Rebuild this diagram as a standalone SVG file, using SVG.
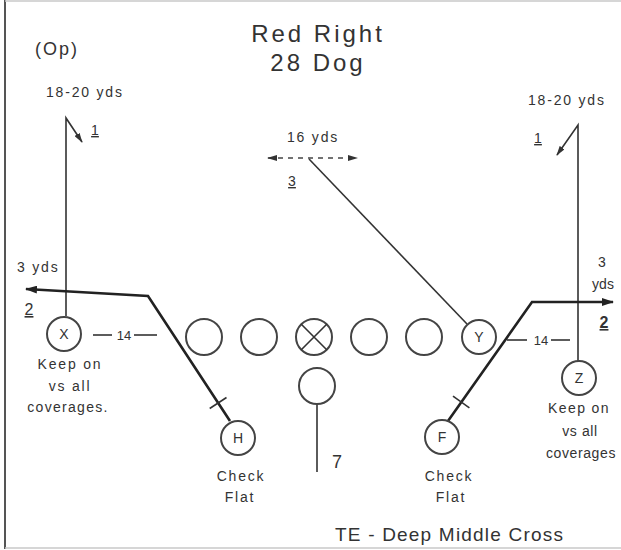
<svg xmlns="http://www.w3.org/2000/svg" width="621" height="550" viewBox="0 0 621 550">
<defs>
<style>
text{font-family:"Liberation Sans",Arial,sans-serif;fill:#333}
.t{font-size:24px;letter-spacing:3px;text-anchor:middle}
.s{font-size:14px;letter-spacing:1.8px}
.m{font-size:14px;letter-spacing:1.8px;text-anchor:middle}
.r{font-size:14px;letter-spacing:0.6px;text-anchor:middle}
.n{font-size:14px;text-anchor:middle;text-decoration:underline}
.c{font-size:14px;text-anchor:middle}
.p{fill:none;stroke:#333;stroke-width:1.6}
.b{fill:none;stroke:#222;stroke-width:2.6}
.o{fill:#fff;stroke:#444;stroke-width:2}
.frame{stroke:#555;stroke-width:2}
.frame2{stroke:#c8c8c8;stroke-width:1.5}
</style>
<marker id="ah" viewBox="0 0 12 8" refX="11" refY="4" markerWidth="12" markerHeight="8" markerUnits="userSpaceOnUse" orient="auto"><path d="M0,0 L12,4 L0,8 z" fill="#222"/></marker>
<marker id="as" viewBox="0 0 10 6" refX="9" refY="3" markerWidth="10" markerHeight="6" markerUnits="userSpaceOnUse" orient="auto"><path d="M0,0 L10,3 L0,6 z" fill="#333"/></marker>
<marker id="asr" viewBox="0 0 10 6" refX="1" refY="3" markerWidth="10" markerHeight="6" markerUnits="userSpaceOnUse" orient="auto"><path d="M10,0 L0,3 L10,6 z" fill="#333"/></marker>
</defs>
<rect width="621" height="550" fill="#fff"/>
<g id="frame">
<line class="frame" x1="5" y1="0" x2="5" y2="549"/>
<line class="frame2" x1="5" y1="1" x2="621" y2="1"/>
<line class="frame2" x1="5" y1="548" x2="621" y2="548"/>
</g>
<g id="title">
<text class="t" x="318" y="42">Red Right</text>
<text class="t" x="318" y="71">28 Dog</text>
</g>
<g id="connectors">
<path class="p" d="M66,316 L66,118 L82,142" marker-end="url(#as)"/>
<path class="p" d="M578,361 L578,125 L557,155" marker-end="url(#as)"/>
<path class="b" d="M230,421 L148,296 L26,289" marker-end="url(#ah)" stroke-width="2"/>
<line class="p" x1="209.7" y1="408.5" x2="226.5" y2="397.5"/>
<path class="b" d="M448,421 L532,302 L613,302" marker-end="url(#ah)" stroke-width="2.4"/>
<line class="p" x1="453" y1="396.2" x2="469.4" y2="407.8"/>
<line class="p" x1="309" y1="159" x2="467" y2="324"/>
<line x1="268" y1="158" x2="357" y2="158" stroke="#444" stroke-width="1.3" stroke-dasharray="5,5" marker-start="url(#asr)" marker-end="url(#as)"/>
<line class="p" x1="317" y1="404" x2="317" y2="472"/>
<line class="p" x1="93" y1="335" x2="112" y2="335"/>
<line class="p" x1="134" y1="335" x2="157" y2="335"/>
<line class="p" x1="507" y1="340" x2="527" y2="340"/>
<line class="p" x1="551" y1="340" x2="570" y2="340"/>
</g>
<g id="labels">
<text x="35" y="55" style="font-size:18px;letter-spacing:2px">(Op)</text>
<text class="s" x="46" y="97">18-20 yds</text>
<text class="s" x="528" y="105">18-20 yds</text>
<text class="n" x="95" y="135">1</text>
<text class="n" x="538" y="143">1</text>
<text class="s" x="287" y="142">16 yds</text>
<text class="n" x="292" y="186">3</text>
<text class="s" x="17" y="272">3 yds</text>
<text class="n" x="29" y="315" style="font-size:16px">2</text>
<text class="c" x="602" y="267">3</text>
<text class="c" x="603" y="289">yds</text>
<text class="n" x="604" y="328" style="font-size:16px;font-weight:bold">2</text>
<text class="c" x="124" y="340" style="font-size:13px">14</text>
<text class="c" x="541" y="345" style="font-size:13px">14</text>
<text class="c" x="337" y="468" style="font-size:18px">7</text>
<text x="335" y="541" style="font-size:19px;letter-spacing:1.2px">TE - Deep Middle Cross</text>
</g>
<g id="node-X">
<circle class="o" cx="64" cy="334" r="17"/>
<text class="c" x="64" y="339">X</text>
<text class="m" x="70" y="369">Keep on</text>
<text class="m" x="70" y="391">vs all</text>
<text class="s" x="68" y="412" style="letter-spacing:1.3px;text-anchor:middle">coverages.</text>
</g>
<g id="node-LT"><circle class="o" cx="204" cy="337" r="18"/></g>
<g id="node-LG"><circle class="o" cx="259" cy="337" r="18"/></g>
<g id="node-C">
<circle class="o" cx="314" cy="337" r="18"/>
<path class="p" d="M301.3,324.3 L326.7,349.7 M326.7,324.3 L301.3,349.7" stroke-width="1.8"/>
</g>
<g id="node-RG"><circle class="o" cx="369" cy="337" r="18"/></g>
<g id="node-RT"><circle class="o" cx="424" cy="337" r="18"/></g>
<g id="node-Y">
<circle class="o" cx="479" cy="337" r="17"/>
<text class="c" x="479" y="342">Y</text>
</g>
<g id="node-QB"><circle class="o" cx="317" cy="386" r="18"/></g>
<g id="node-H">
<circle class="o" cx="238" cy="438" r="17"/>
<text class="c" x="238" y="443">H</text>
<text class="m" x="241" y="481">Check</text>
<text class="m" x="240" y="502">Flat</text>
</g>
<g id="node-F">
<circle class="o" cx="442" cy="437" r="17"/>
<text class="c" x="442" y="442">F</text>
<text class="m" x="449" y="481">Check</text>
<text class="m" x="451" y="502">Flat</text>
</g>
<g id="node-Z">
<circle class="o" cx="579" cy="378" r="17"/>
<text class="c" x="579" y="383">Z</text>
<text class="r" x="579" y="413" style="letter-spacing:1.4px">Keep on</text>
<text class="r" x="580" y="436">vs all</text>
<text class="r" x="581" y="458">coverages</text>
</g>
</svg>
